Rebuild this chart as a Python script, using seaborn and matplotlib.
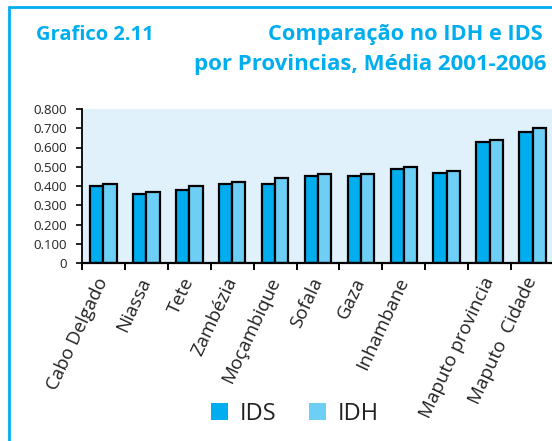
import matplotlib
matplotlib.use("Agg")
import matplotlib.pyplot as plt
from matplotlib.patches import Patch
from matplotlib.lines import Line2D
import seaborn as sns
import pandas as pd
import numpy as np

provincias = ["Cabo Delgado", "Niassa", "Tete", "Zambézia", "Moçambique", "Sofala",
              "Gaza", "Inhambane", "Manica", "Maputo provincia", "Maputo  Cidade"]
tick_labels = ["Cabo Delgado", "Niassa", "Tete", "Zambézia", "Moçambique", "Sofala",
               "Gaza", "Inhambane", "", "Maputo provincia", "Maputo  Cidade"]
ids_vals = [0.40, 0.36, 0.38, 0.41, 0.41, 0.45, 0.45, 0.49, 0.47, 0.63, 0.68]
idh_vals = [0.41, 0.37, 0.40, 0.42, 0.44, 0.46, 0.46, 0.50, 0.48, 0.64, 0.70]
series = ["IDS", "IDH"]
yticks = [0, 0.1, 0.2, 0.3, 0.4, 0.5, 0.6, 0.7, 0.8]
ytick_labels = ["0", "0.100", "0.200", "0.300", "0.400", "0.500", "0.600", "0.700", "0.800"]

df = pd.DataFrame({
    "prov": provincias * 2,
    "serie": ["IDS"] * len(provincias) + ["IDH"] * len(provincias),
    "valor": ids_vals + idh_vals,
})

C_IDS = "#00AEEF"
C_IDH = "#6DCFF6"
CYAN = "#00AEEF"
BG = "#E0F1FB"

sns.set_style("white")
plt.rcParams["font.family"] = ["Open Sans", "DejaVu Sans"]

W, H = 552, 441
fig = plt.figure(figsize=(W / 100, H / 100), dpi=100)
ax = fig.add_axes([82 / W, (H - 263) / H, (554 - 82) / W, (263 - 109) / H])

sns.barplot(data=df, x="prov", y="valor", hue="serie", order=provincias,
            hue_order=series, palette=[C_IDS, C_IDH], width=0.62,
            edgecolor="black", linewidth=1.6, legend=False, ax=ax, saturation=1)

ax.set_facecolor(BG)
ax.set_xlim(-0.5, len(provincias) - 0.5)
ax.set_ylim(0, 0.8)
ax.set_xlabel("")
ax.set_ylabel("")
ax.set_yticks(yticks)
ax.set_yticklabels(ytick_labels, fontsize=9.5, color="#222222")
ax.tick_params(axis="y", direction="out", length=4, width=1.2, color="black", pad=7, left=True)

ax.set_xticks(range(len(provincias)))
ax.set_xticklabels(tick_labels, rotation=65, ha="right", va="center",
                   rotation_mode="anchor", fontsize=13.5, color="#222222")
ax.tick_params(axis="x", which="major", length=0, pad=11)
ax.set_xticks(np.arange(-0.5, len(provincias), 1.0), minor=True)
ax.tick_params(axis="x", which="minor", direction="out", length=5, width=1.4,
               color="black", bottom=True)

for side in ["top", "right"]:
    ax.spines[side].set_visible(False)
ax.spines["left"].set_color("black")
ax.spines["left"].set_linewidth(1.3)
ax.spines["bottom"].set_color("black")
ax.spines["bottom"].set_linewidth(1.6)

# frame
fig.add_artist(Line2D([9 / W, 9 / W], [0, 1 - 7 / H], color=CYAN, lw=2, transform=fig.transFigure))
fig.add_artist(Line2D([9 / W, 1], [1 - 7 / H, 1 - 7 / H], color=CYAN, lw=2, transform=fig.transFigure))

# titles
fig.text(36 / W, 1 - 40 / H, "Grafico 2.11", color=CYAN, fontsize=14.5,
         fontweight="bold", ha="left", va="baseline")
fig.text(543 / W, 1 - 40 / H, "Comparação no IDH e IDS", color=CYAN, fontsize=15.7,
         fontweight="bold", ha="right", va="baseline")
fig.text(547 / W, 1 - 70 / H, "por Provincias, Média 2001-2006", color=CYAN, fontsize=16,
         fontweight="bold", ha="right", va="baseline")

handles = [Patch(facecolor=C_IDS, edgecolor="none"), Patch(facecolor=C_IDH, edgecolor="none")]
fig.legend(handles, series, loc="center", bbox_to_anchor=(295 / W, 1 - 414 / H),
           ncol=2, frameon=False, fontsize=17, handlelength=0.7, handleheight=0.7,
           columnspacing=1.4, handletextpad=0.5, labelcolor="#222222")

fig.savefig("out.png", dpi=100)
